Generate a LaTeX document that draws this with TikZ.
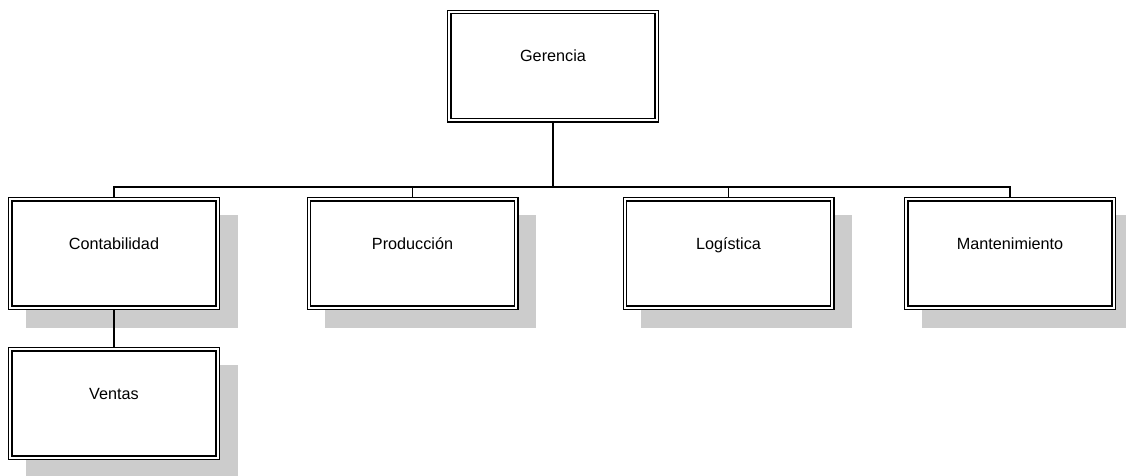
\documentclass[tikz,border=0pt]{standalone}
\usepackage{fontspec}
\setmainfont{Liberation Sans}
\usetikzlibrary{backgrounds}
\definecolor{shadowgray}{HTML}{CCCCCC}
\tikzset{
  orgbox/.style={draw=black, double=white, double distance=2pt, line width=1.3pt,
    fill=white, minimum width=207.4pt, minimum height=108.4pt, outer sep=0pt,
    inner sep=0pt, font=\fontsize{16.2}{19}\selectfont},
  conn/.style={draw=black, line width=1.3pt},
  shadowfill/.style={fill=shadowgray}
}
\newcommand{\boxtext}[1]{\raisebox{20pt}{#1}}
\begin{document}
\begin{tikzpicture}[x=1pt,y=-1pt]
\useasboundingbox (0,0) rectangle (1126,475);
\node[orgbox] (ger) at (553,66) {\boxtext{Gerencia}};
\node[orgbox] (cont) at (114,253.5) {\boxtext{Contabilidad}};
\node[orgbox] (prod) at (412.5,253.5) {\boxtext{Producción}};
\node[orgbox] (log) at (728.5,253.5) {\boxtext{Logística}};
\node[orgbox] (mant) at (1010,253.5) {\boxtext{Mantenimiento}};
\node[orgbox] (vent) at (114,403.5) {\boxtext{Ventas}};
\begin{pgfonlayer}{background}
  \foreach \n in {cont,prod,log,mant,vent}{
    \fill[shadowfill] ([shift={(15.8,15.8)}]\n.north west) rectangle ([shift={(20.2,20.2)}]\n.south east);
  }
  \draw[conn] (ger.south) -- (553,187) coordinate (bus);
  \draw[conn] (cont.north) |- (bus);
  \draw[conn] (prod.north) |- (bus);
  \draw[conn] (log.north) |- (bus);
  \draw[conn] (mant.north) |- (bus);
  \draw[conn] (cont.south) -- (vent.north);
\end{pgfonlayer}
\end{tikzpicture}
\end{document}
